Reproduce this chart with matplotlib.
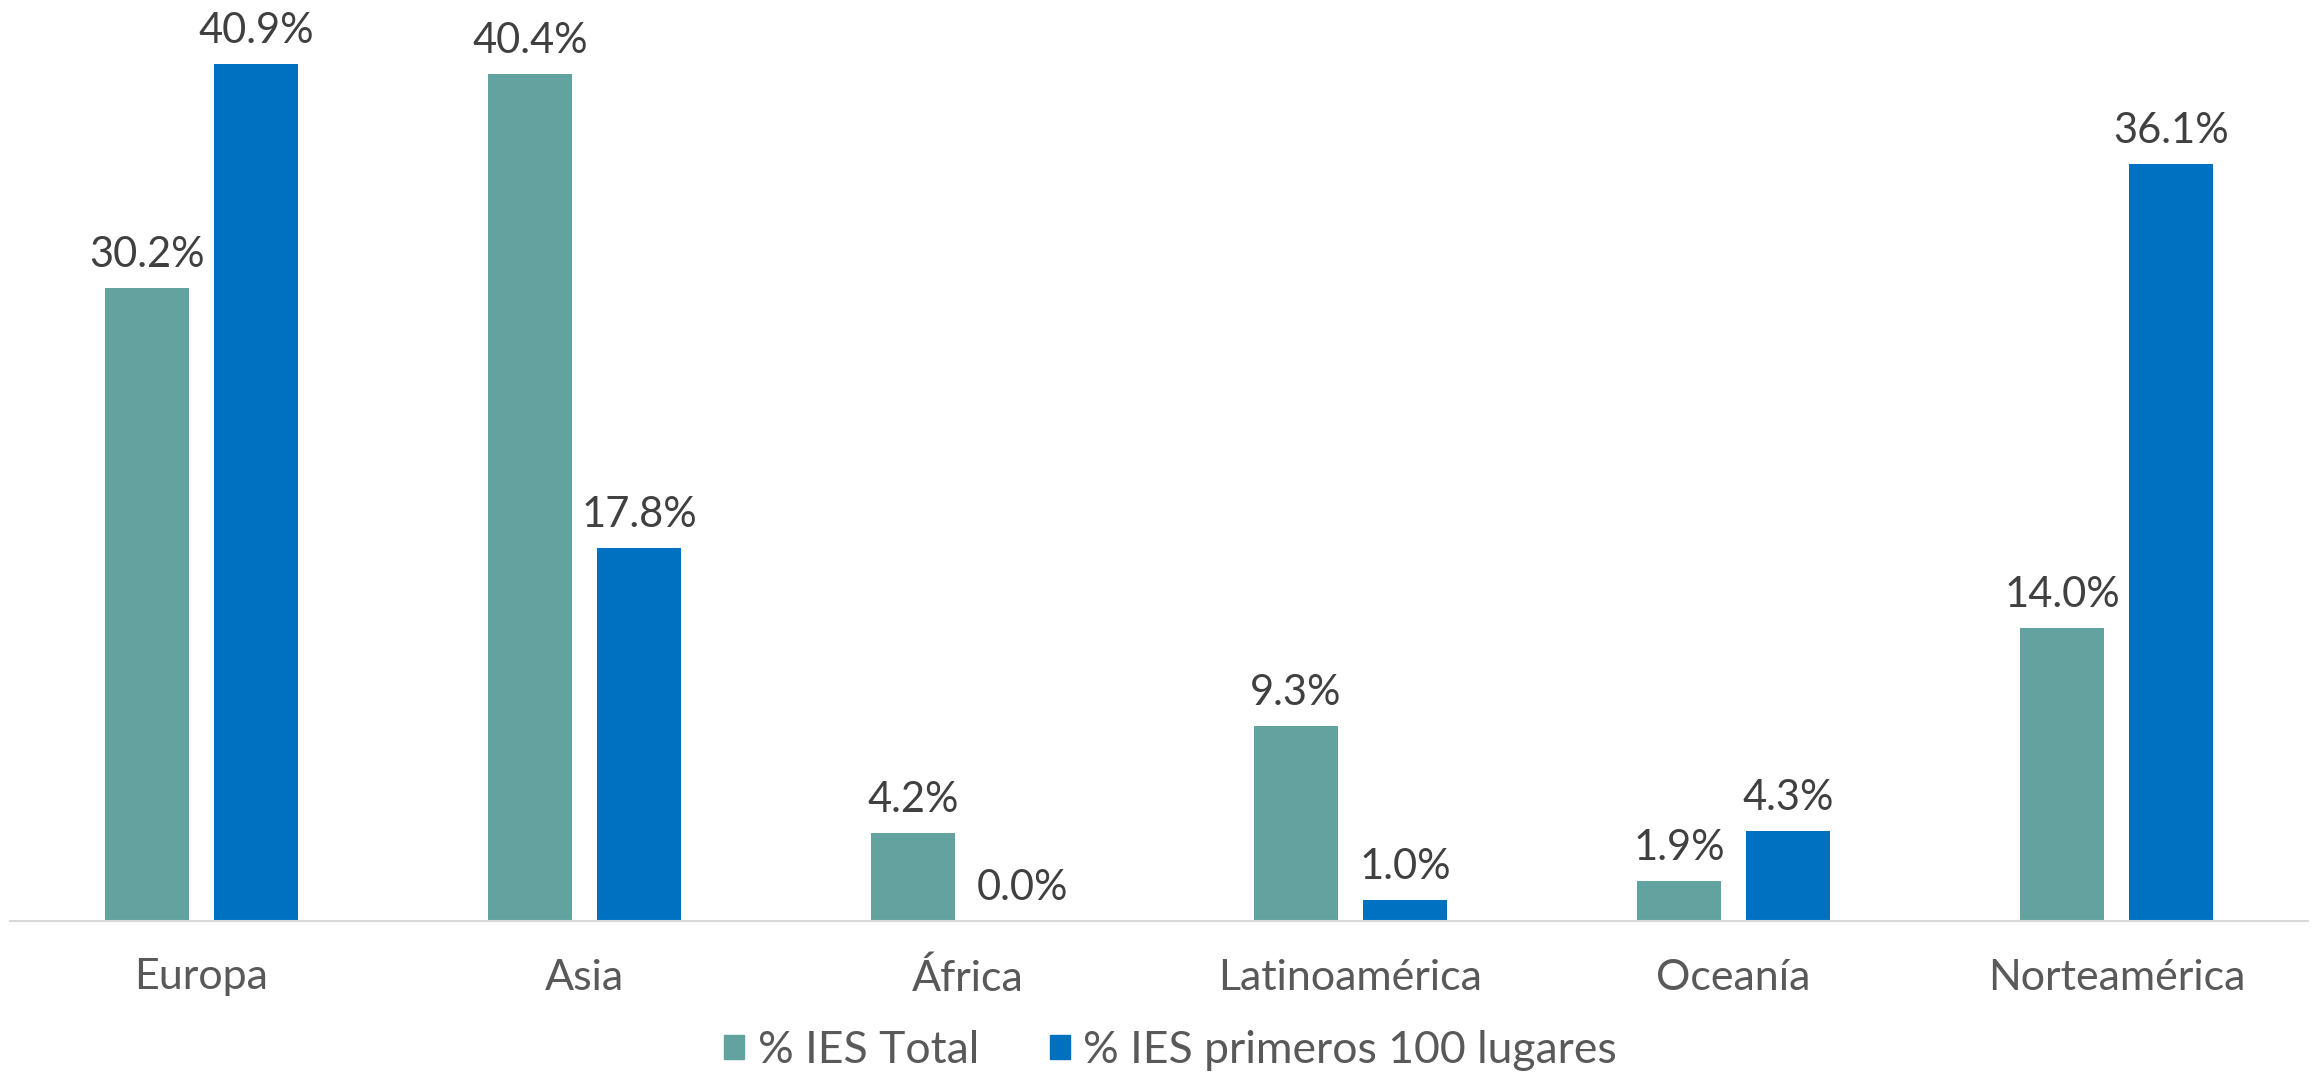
import numpy as np
import matplotlib.pyplot as plt
from matplotlib.patches import Patch

categories = ["Europa", "Asia", "África", "Latinoamérica", "Oceanía", "Norteamérica"]
ies_total = [30.2, 40.4, 4.2, 9.3, 1.9, 14.0]
ies_top100 = [40.9, 17.8, 0.0, 1.0, 4.3, 36.1]
series_names = ["% IES Total", "% IES primeros 100 lugares"]

teal = "#63A39F"
blue = "#0070C0"

plt.rcParams['font.family'] = ['Lato', 'DejaVu Sans']

fig = plt.figure(figsize=(23.18, 10.75), dpi=100)
ax = fig.add_axes([10 / 2318, 154 / 1075, 2298 / 2318, 921 / 1075])

x = np.arange(len(categories))
w = 0.22
off = 0.1425
b1 = ax.bar(x - off, ies_total, w, color=teal)
b2 = ax.bar(x + off, ies_top100, w, color=blue)

for bars, vals in ((b1, ies_total), (b2, ies_top100)):
    for rect, v in zip(bars, vals):
        ax.annotate(f"{v:.1f}%", (rect.get_x() + rect.get_width() / 2, v),
                    xytext=(0, 10), textcoords="offset points",
                    ha="center", va="bottom", fontsize=30, color="#404040")

ax.set_xlim(-0.5, len(categories) - 0.5)
ax.set_ylim(0, 43.94)
ax.set_xticks(x)
ax.set_xticklabels(categories, fontsize=31, color="#595959")
ax.tick_params(axis="x", length=0, pad=27)
ax.set_yticks([])
for s in ["top", "left", "right"]:
    ax.spines[s].set_visible(False)
ax.spines["bottom"].set_color("#d9d9d9")
ax.spines["bottom"].set_linewidth(1.5)

handles = [Patch(color=teal, label=series_names[0]), Patch(color=blue, label=series_names[1])]
leg = fig.legend(handles=handles, loc="lower center", bbox_to_anchor=(0.505, 0.0), ncol=2,
                 frameon=False, fontsize=32, handlelength=0.45, handleheight=0.45,
                 handletextpad=0.3, columnspacing=1.6, borderaxespad=0.0, borderpad=0.1)
for t in leg.get_texts():
    t.set_color("#595959")

fig.savefig("out.png", dpi=100)
